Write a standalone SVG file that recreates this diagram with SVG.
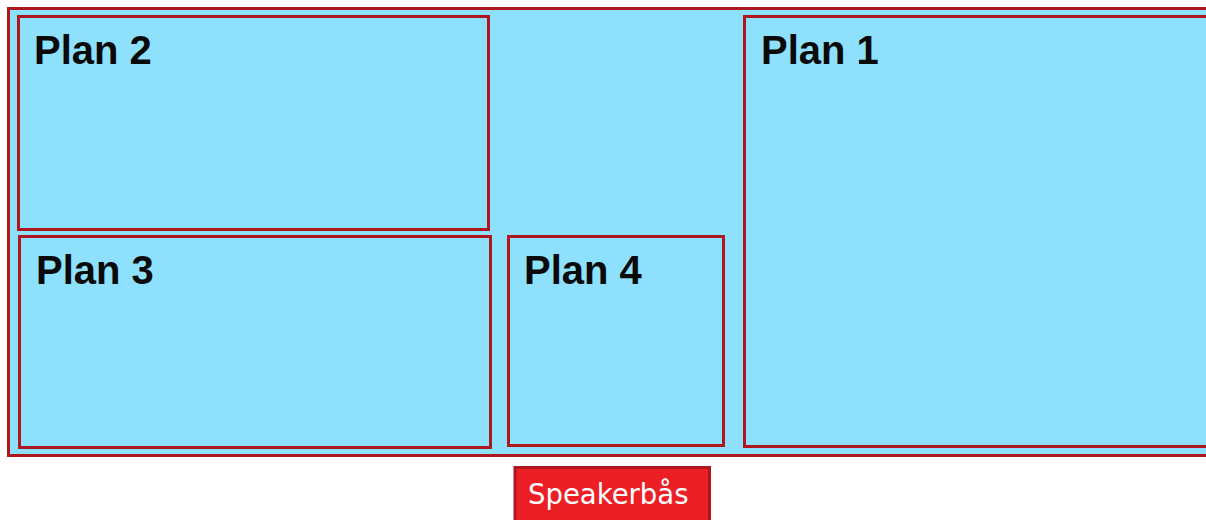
<svg xmlns="http://www.w3.org/2000/svg" width="1206" height="520" viewBox="0 0 1206 520">
<style>
.area{fill:#8de1fd;stroke:#ad171d;stroke-width:3}
.lbl{font-family:"Liberation Sans",Arial,sans-serif;font-weight:bold;font-size:40px;fill:#0a0a0a}
.spk{fill:#ec1f26;stroke:#ad171d;stroke-width:3}
.spkt{font-family:"DejaVu Sans",sans-serif;font-size:27.5px;fill:#ffffff}
</style>
<rect width="1206" height="520" fill="#ffffff"/>
<g id="hall"><rect class="area" x="8.5" y="8.5" width="1210" height="447"/></g>
<g id="plan2"><rect class="area" x="18.5" y="16.5" width="470" height="213"/><text class="lbl" x="34" y="64">Plan 2</text></g>
<g id="plan3"><rect class="area" x="19.5" y="236.5" width="471" height="211"/><text class="lbl" x="36" y="284">Plan 3</text></g>
<g id="plan4"><rect class="area" x="508.5" y="236.5" width="215" height="209"/><text class="lbl" x="524" y="284">Plan 4</text></g>
<g id="plan1"><rect class="area" x="744.5" y="16.5" width="480" height="430"/><text class="lbl" x="761" y="64">Plan 1</text></g>
<g id="speaker"><rect class="spk" x="515" y="467.5" width="194.5" height="70"/><text class="spkt" x="528" y="504">Speakerbås</text></g>
<g id="connectors"></g>
</svg>
